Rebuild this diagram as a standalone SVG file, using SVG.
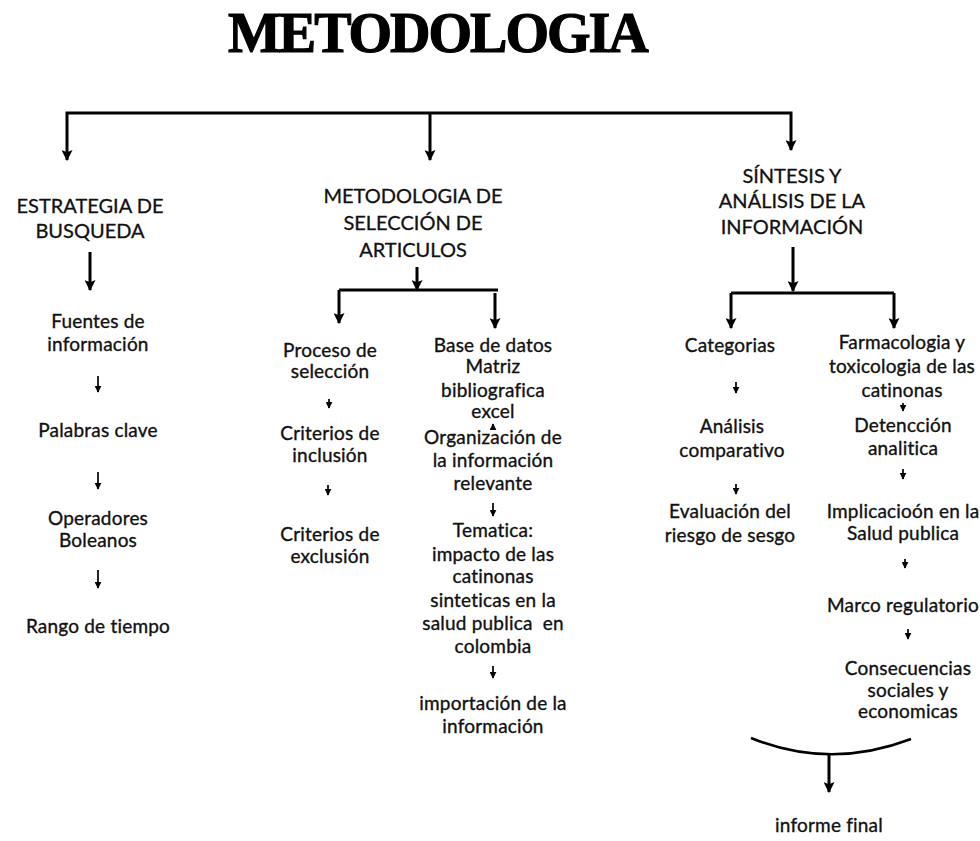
<svg xmlns="http://www.w3.org/2000/svg" width="980" height="841" viewBox="0 0 980 841">
<defs>
<marker id="ah" viewBox="0 0 10 10" refX="9" refY="5" markerWidth="11" markerHeight="11" markerUnits="userSpaceOnUse" orient="auto">
<path d="M0,0 L10,5 L0,10 L2,5 Z" fill="#000"/>
</marker>
<marker id="sm" viewBox="0 0 10 10" refX="9" refY="5" markerWidth="7" markerHeight="7" markerUnits="userSpaceOnUse" orient="auto">
<path d="M0,0 L10,5 L0,10 Z" fill="#000"/>
</marker>
</defs>
<style>
.title{font-family:"Liberation Serif",serif;font-weight:bold;font-size:56px;fill:#000;stroke:#000;stroke-width:1.2;letter-spacing:-2px}
.hd{font-family:Lato,"Liberation Sans",sans-serif;font-size:20px;fill:#111;stroke:#111;stroke-width:0.3;text-anchor:middle}
.tx{font-family:Lato,"Liberation Sans",sans-serif;font-size:19px;fill:#111;stroke:#111;stroke-width:0.35;text-anchor:middle;letter-spacing:0.2px}
.big{fill:none;stroke:#000;stroke-width:3;marker-end:url(#ah)}
.small{fill:none;stroke:#000;stroke-width:1.7;marker-end:url(#sm)}
</style>
<rect width="980" height="841" fill="#fff"/>
<text class="title" x="228" y="52">METODOLOGIA</text>

<g id="connectors">
<path class="big" d="M430,113 H67 V160"/>
<path class="big" d="M430,113 H791 V150"/>
<path class="big" d="M430,113 V160"/>
<path class="big" d="M90,252 V290"/>
<path class="big" d="M417,267 V290"/>
<path d="M339,290 H498" fill="none" stroke="#000" stroke-width="3"/>
<path class="big" d="M339,290 V323"/>
<path class="big" d="M495,293 V328"/>
<path class="big" d="M793,247 V291"/>
<path d="M731,293 H894" fill="none" stroke="#000" stroke-width="3"/>
<path class="big" d="M731,293 V328"/>
<path class="big" d="M894,293 V328"/>
<path class="small" d="M98,376 V392"/>
<path class="small" d="M98,472 V489"/>
<path class="small" d="M98,570 V588"/>
<path class="small" d="M329,399 V408"/>
<path class="small" d="M328,485 V495"/>
<path class="small" d="M493,430 V424"/>
<path class="small" d="M493,503 V516"/>
<path class="small" d="M493,666 V678"/>
<path class="small" d="M736,382 V393"/>
<path class="small" d="M736,484 V494"/>
<path class="small" d="M903,403 V411"/>
<path class="small" d="M903,469 V479"/>
<path class="small" d="M905,559 V568"/>
<path class="small" d="M908,629 V639"/>
<path d="M751,738 Q830,770 911,739" fill="none" stroke="#000" stroke-width="2.5"/>
<path class="big" d="M829,754 V792"/>
</g>

<g id="n-estrategia"><text class="hd" x="90" y="213">ESTRATEGIA DE</text><text class="hd" x="90" y="238">BUSQUEDA</text></g>
<g id="n-metodologia"><text class="hd" x="413" y="203">METODOLOGIA DE</text><text class="hd" x="413" y="230">SELECCIÓN DE</text><text class="hd" x="413" y="257">ARTICULOS</text></g>
<g id="n-sintesis"><text class="hd" x="792" y="183">SÍNTESIS Y</text><text class="hd" x="792" y="208">ANÁLISIS DE LA</text><text class="hd" x="792" y="234">INFORMACIÓN</text></g>

<g id="n-fuentes"><text class="tx" x="98" y="328">Fuentes de</text><text class="tx" x="98" y="351">información</text></g>
<g id="n-palabras"><text class="tx" x="98" y="437">Palabras clave</text></g>
<g id="n-operadores"><text class="tx" x="98" y="525">Operadores</text><text class="tx" x="98" y="547">Boleanos</text></g>
<g id="n-rango"><text class="tx" x="98" y="633">Rango de tiempo</text></g>

<g id="n-proceso"><text class="tx" x="330" y="357">Proceso de</text><text class="tx" x="330" y="378">selección</text></g>
<g id="n-inclusion"><text class="tx" x="330" y="440">Criterios de</text><text class="tx" x="330" y="462">inclusión</text></g>
<g id="n-exclusion"><text class="tx" x="330" y="541">Criterios de</text><text class="tx" x="330" y="563">exclusión</text></g>

<g id="n-base"><text class="tx" x="493" y="352">Base de datos</text><text class="tx" x="493" y="373">Matriz</text><text class="tx" x="493" y="397">bibliografica</text><text class="tx" x="493" y="418">excel</text></g>
<g id="n-organizacion"><text class="tx" x="493" y="444">Organización de</text><text class="tx" x="493" y="467">la información</text><text class="tx" x="493" y="490">relevante</text></g>
<g id="n-tematica"><text class="tx" x="493" y="537">Tematica:</text><text class="tx" x="493" y="561">impacto de las</text><text class="tx" x="493" y="583">catinonas</text><text class="tx" x="493" y="607">sinteticas en la</text><text class="tx" x="493" y="630" xml:space="preserve">salud publica  en</text><text class="tx" x="493" y="653">colombia</text></g>
<g id="n-importacion"><text class="tx" x="493" y="710">importación de la</text><text class="tx" x="493" y="733">información</text></g>

<g id="n-categorias"><text class="tx" x="730" y="352">Categorias</text></g>
<g id="n-analisis"><text class="tx" x="732" y="433">Análisis</text><text class="tx" x="732" y="457">comparativo</text></g>
<g id="n-evaluacion"><text class="tx" x="730" y="518">Evaluación del</text><text class="tx" x="730" y="542">riesgo de sesgo</text></g>

<g id="n-farmacologia"><text class="tx" x="902" y="349">Farmacologia y</text><text class="tx" x="902" y="373">toxicologia de las</text><text class="tx" x="902" y="397">catinonas</text></g>
<g id="n-deteccion"><text class="tx" x="903" y="432">Detencción</text><text class="tx" x="903" y="455">analitica</text></g>
<g id="n-implicacion"><text class="tx" x="903" y="518">Implicacioón en la</text><text class="tx" x="903" y="540">Salud publica</text></g>
<g id="n-marco"><text class="tx" x="903" y="612">Marco regulatorio</text></g>
<g id="n-consecuencias"><text class="tx" x="908" y="675">Consecuencias</text><text class="tx" x="908" y="697">sociales y</text><text class="tx" x="908" y="718">economicas</text></g>
<g id="n-informe"><text class="tx" x="829" y="832">informe final</text></g>
</svg>
